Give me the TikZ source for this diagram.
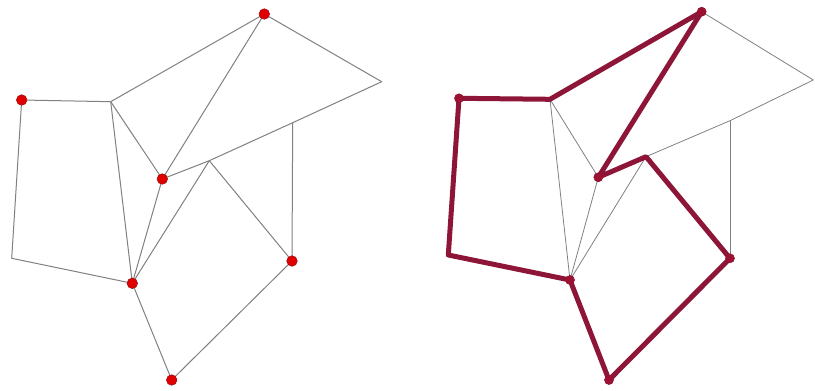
\documentclass[tikz,border=0pt]{standalone}
\usepackage{xcolor}
\usepackage{tikz}
\definecolor{dotred}{HTML}{E00000}
\definecolor{dotrim}{HTML}{A01010}
\definecolor{tour}{HTML}{8C1538}
\definecolor{edgegray}{HTML}{808080}
\tikzset{
  vdot/.style={circle,fill=dotred,draw=dotrim,line width=0.6pt,inner sep=0pt,minimum size=10.5pt},
  tdot/.style={circle,fill=tour!85!red,draw=tour,line width=0.6pt,inner sep=0pt,minimum size=9pt},
  jpt/.style={inner sep=0pt,minimum size=0pt},
  eline/.style={draw=edgegray,line width=1pt},
  tline/.style={draw=tour,line width=5pt,line join=round,line cap=round},
}

\begin{document}
\begin{tikzpicture}[x=1pt,y=-1pt]
\useasboundingbox (0,0) rectangle (815,391);
% left: the graph
\coordinate (lB) at (110.7,101.7);
\coordinate (lD) at (381.7,81.7);
\coordinate (lE) at (292.7,122.7);
\coordinate (lF) at (209.3,160.7);
\coordinate (lK) at (11.7,258.3);
\node[jpt] (lA) at (21.7,100) {};
\node[jpt] (lC) at (264.3,14) {};
\node[jpt] (lG) at (162.3,179) {};
\node[jpt] (lH) at (292,261) {};
\node[jpt] (lI) at (132.3,283.3) {};
\node[jpt] (lJ) at (171.7,380) {};
\draw[eline] (lA)--(lB); \draw[eline] (lA)--(lK); \draw[eline] (lK)--(lI);
\draw[eline] (lB)--(lC); \draw[eline] (lC)--(lD); \draw[eline] (lC)--(lG);
\draw[eline] (lB)--(lG); \draw[eline] (lB)--(lI); \draw[eline] (lG)--(lI);
\draw[eline] (lF)--(lI); \draw[eline] (lG)--(lF); \draw[eline] (lF)--(lE);
\draw[eline] (lE)--(lD); \draw[eline] (lE)--(lH); \draw[eline] (lF)--(lH);
\draw[eline] (lH)--(lJ); \draw[eline] (lI)--(lJ);
\foreach \p in {lA,lC,lG,lH,lI,lJ} \node[vdot] at (\p) {};
% right: the same graph with the tour
\coordinate (rB) at (550,99.3);
\coordinate (rD) at (813.3,80);
\coordinate (rE) at (730,120.7);
\coordinate (rF) at (646,156.7);
\coordinate (rK) at (448.3,255);
\node[jpt] (rA) at (459,98.3) {};
\node[jpt] (rC) at (701.7,11.7) {};
\node[jpt] (rG) at (598.3,177.3) {};
\node[jpt] (rH) at (730,258.3) {};
\node[jpt] (rI) at (570,280) {};
\node[jpt] (rJ) at (609,380) {};
\draw[eline,line width=0.8pt] (rB)--(rG); \draw[eline,line width=0.8pt] (rB)--(rI);
\draw[eline,line width=0.8pt] (rG)--(rI); \draw[eline,line width=0.8pt] (rF)--(rI);
\draw[eline,line width=0.8pt] (rF)--(rE); \draw[eline,line width=0.8pt] (rE)--(rD);
\draw[eline,line width=0.8pt] (rC)--(rD); \draw[eline,line width=0.8pt] (rE)--(rH);
\draw[tline] (rK)--(rA)--(rB)--(rC)--(rG)--(rF)--(rH)--(rJ)--(rI)--(rK);
\foreach \p in {rA,rC,rG,rH,rI,rJ} \node[tdot] at (\p) {};
\end{tikzpicture}
\end{document}
